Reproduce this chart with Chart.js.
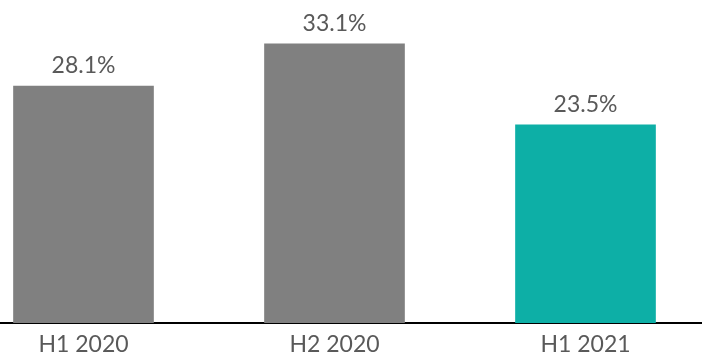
<!DOCTYPE html>
<html>
<head>
<meta charset="utf-8">
<script src="https://cdn.jsdelivr.net/npm/chart.js@4/dist/chart.umd.min.js"></script>
<style>
  html, body { margin: 0; padding: 0; background: #fff; overflow: hidden; }
  #wrap { position: relative; width: 753px; height: 354px; margin-left: -42px; }
</style>
</head>
<body>
<div id="wrap"><canvas id="myChart"></canvas></div>
<script>
const periods = ['H1 2020', 'H2 2020', 'H1 2021']
const shares = [28.1, 33.1, 23.5]
const barColors = ['#808080', '#808080', '#0DAFA6']

const canvas = document.getElementById('myChart')

// percentage above each bar
const valueLabels = {
    id: 'valueLabels',
    afterDatasetsDraw(chart) {
        const ctx = chart.ctx
        const meta = chart.getDatasetMeta(0)
        ctx.save()
        ctx.font = '23px Lato'
        ctx.fillStyle = '#595959'
        ctx.textAlign = 'center'
        ctx.textBaseline = 'alphabetic'
        meta.data.forEach((bar, i) => {
            ctx.fillText(shares[i].toFixed(1) + '%', bar.x, bar.y - 13)
        })
        ctx.restore()
    }
}

const config = {
    type: 'bar',
    data: {
        labels: periods,
        datasets: [{
            data: shares,
            backgroundColor: barColors,
            barThickness: 140
        }]
    },
    options: {
        responsive: true,
        maintainAspectRatio: false,
        animation: false,
        layout: { padding: 0 },
        plugins: {
            legend: { display: false },
            tooltip: { enabled: false }
        },
        scales: {
            x: {
                grid: { display: false, drawTicks: false },
                border: { display: true, color: '#000', width: 2 },
                ticks: {
                    color: '#595959',
                    font: { family: 'Lato', size: 23 },
                    padding: 8
                },
                afterFit(scale) { scale.height = 31 }
            },
            y: {
                display: false,
                min: 0,
                max: 38.3
            }
        }
    },
    plugins: [valueLabels]
}

const myChart = new Chart(canvas, config)
</script>
</body>
</html>
